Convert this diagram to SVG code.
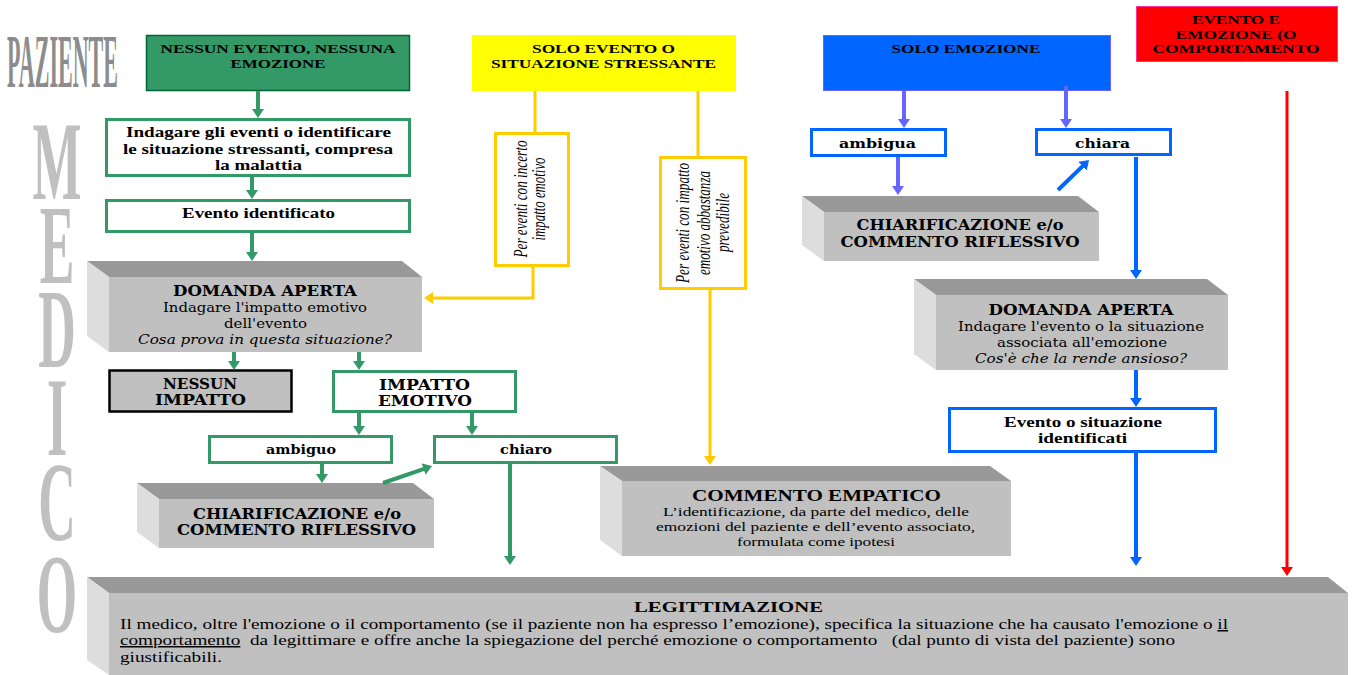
<svg xmlns="http://www.w3.org/2000/svg" width="1352" height="675" viewBox="0 0 1352 675">
<defs>
<style>
text{font-family:"Liberation Serif","Times New Roman",serif;fill:#000}
.c{text-anchor:middle}
.hb{font-weight:bold;font-size:13.5px}
.gb{font-weight:bold;font-size:14px}
.bk{font-family:"DejaVu Serif",serif;font-weight:bold;font-size:13px}
.bkl{font-family:"DejaVu Serif",serif;font-weight:bold;font-size:14.5px}
.bkr{font-family:"DejaVu Serif",serif;font-size:13.5px}
.bki{font-family:"DejaVu Serif",serif;font-style:italic;font-size:13.5px}
.it{font-style:italic;font-size:18px}
.ct{font-weight:bold;font-size:16px}
.tr{font-size:13.5px}
.lt{font-weight:bold;font-size:15.5px}
.lg{font-size:15px}
.u{text-decoration:underline}
.big{font-size:113px;font-weight:bold;fill:#c0c0c0;text-anchor:middle}
.top{fill:#999999}
.lf{fill:#dddddd}
.fr{fill:#c0c0c0}
.wg{fill:#fff;stroke:#339966;stroke-width:3}
.wb{fill:#fff;stroke:#0066ff;stroke-width:3}
.wy{fill:#fff;stroke:#ffcc00;stroke-width:3}
.cg{fill:none;stroke:#339966;stroke-width:4}
.cy{fill:none;stroke:#ffcc00;stroke-width:3}
.cl{fill:none;stroke:#6666ff;stroke-width:4}
.cb{fill:none;stroke:#0066ff;stroke-width:4}
.cr{fill:none;stroke:#ff0000;stroke-width:3}
</style>
<marker id="ag" markerUnits="userSpaceOnUse" markerWidth="10" markerHeight="12" refX="0.5" refY="6" orient="auto"><path d="M0,0 L9,6 L0,12 z" fill="#339966"/></marker>
<marker id="ay" markerUnits="userSpaceOnUse" markerWidth="10" markerHeight="12" refX="0.5" refY="6" orient="auto"><path d="M0,0 L9,6 L0,12 z" fill="#ffcc00"/></marker>
<marker id="al" markerUnits="userSpaceOnUse" markerWidth="10" markerHeight="12" refX="0.5" refY="6" orient="auto"><path d="M0,0 L9,6 L0,12 z" fill="#6666ff"/></marker>
<marker id="ab" markerUnits="userSpaceOnUse" markerWidth="10" markerHeight="12" refX="0.5" refY="6" orient="auto"><path d="M0,0 L9,6 L0,12 z" fill="#0066ff"/></marker>
<marker id="ar" markerUnits="userSpaceOnUse" markerWidth="10" markerHeight="12" refX="0.5" refY="6" orient="auto"><path d="M0,0 L9,6 L0,12 z" fill="#ff0000"/></marker>
<clipPath id="clipDA"><rect x="100" y="270" width="330" height="78"/></clipPath>
</defs>

<g id="labels">
<text transform="translate(7,87) scale(0.29,1)" font-size="76" font-weight="bold" style="fill:#8c8c8c">PAZIENTE</text>
<text class="big" transform="scale(0.46,1)"><tspan x="124" y="199">M</tspan><tspan x="124" y="283">E</tspan><tspan x="124" y="367">D</tspan><tspan x="124" y="455">I</tspan><tspan x="124" y="540">C</tspan><tspan x="124" y="632">O</tspan></text>
</g>

<g id="h-nessun">
<rect x="146.5" y="35.5" width="263" height="55" fill="#339966" stroke="#006633" stroke-width="1.5"/>
<text class="hb c" x="278" y="53" textLength="235" lengthAdjust="spacingAndGlyphs">NESSUN EVENTO, NESSUNA</text>
<text class="hb c" x="278" y="68" textLength="95" lengthAdjust="spacingAndGlyphs">EMOZIONE</text>
</g>

<g id="h-solo-evento">
<rect x="472" y="35" width="264" height="56" fill="#ffff00"/>
<text class="hb c" x="603.5" y="53" textLength="143" lengthAdjust="spacingAndGlyphs">SOLO EVENTO O</text>
<text class="hb c" x="603.5" y="68" textLength="225" lengthAdjust="spacingAndGlyphs">SITUAZIONE STRESSANTE</text>
</g>

<g id="h-solo-emozione">
<rect x="823.5" y="35.5" width="287" height="55" fill="#0066ff" stroke="#6666ff" stroke-width="1"/>
<text class="hb c" x="966" y="53" textLength="149" lengthAdjust="spacingAndGlyphs">SOLO EMOZIONE</text>
</g>

<g id="h-evento-emozione">
<rect x="1136.5" y="6.5" width="201" height="55" fill="#ff0000" stroke="#ff3399" stroke-width="1"/>
<text class="hb c" x="1236" y="24" textLength="88" lengthAdjust="spacingAndGlyphs">EVENTO E</text>
<text class="hb c" x="1236" y="38.5" textLength="121" lengthAdjust="spacingAndGlyphs">EMOZIONE (O</text>
<text class="hb c" x="1236" y="53" textLength="167" lengthAdjust="spacingAndGlyphs">COMPORTAMENTO</text>
</g>

<g id="n-indagare">
<rect class="wg" x="106.5" y="119.5" width="303" height="56"/>
<text class="gb c" x="258.5" y="137" textLength="265" lengthAdjust="spacingAndGlyphs">Indagare gli eventi o identificare</text>
<text class="gb c" x="258" y="153.5" textLength="270" lengthAdjust="spacingAndGlyphs">le situazione stressanti, compresa</text>
<text class="gb c" x="258.5" y="170" textLength="87" lengthAdjust="spacingAndGlyphs">la malattia</text>
</g>

<g id="n-evento-identificato">
<rect class="wg" x="106.5" y="200.5" width="303" height="31"/>
<text class="gb c" x="258.5" y="218" textLength="153" lengthAdjust="spacingAndGlyphs">Evento identificato</text>
</g>

<g id="n-domanda-sx">
<polygon class="top" points="87,261 402,261 422,277 109,277"/>
<polygon class="lf" points="87,261 109,277 109,352 87,336"/>
<rect class="fr" x="109" y="277" width="313" height="75"/>
<text class="bkl c" x="265" y="296" textLength="184" lengthAdjust="spacingAndGlyphs">DOMANDA APERTA</text>
<text class="bkr c" x="265" y="312" textLength="204" lengthAdjust="spacingAndGlyphs">Indagare l'impatto emotivo</text>
<text class="bkr c" x="265.5" y="328" textLength="83" lengthAdjust="spacingAndGlyphs">dell'evento</text>
<text class="bki c" x="265" y="344" textLength="254" lengthAdjust="spacingAndGlyphs" clip-path="url(#clipDA)">Cosa prova in questa situazione?</text>
</g>

<g id="n-nessun-impatto">
<rect x="109.5" y="370.5" width="182" height="41" fill="#c0c0c0" stroke="#000" stroke-width="2.5"/>
<text class="bkl c" x="200" y="389" textLength="74" lengthAdjust="spacingAndGlyphs">NESSUN</text>
<text class="bkl c" x="200.5" y="405" textLength="91" lengthAdjust="spacingAndGlyphs">IMPATTO</text>
</g>

<g id="n-impatto-emotivo">
<rect class="wg" x="333.5" y="371.5" width="182" height="40"/>
<text class="bkl c" x="424.5" y="390" textLength="91" lengthAdjust="spacingAndGlyphs">IMPATTO</text>
<text class="bkl c" x="425" y="406" textLength="94" lengthAdjust="spacingAndGlyphs">EMOTIVO</text>
</g>

<g id="n-ambiguo">
<rect class="wg" x="209.5" y="436.5" width="182" height="26"/>
<text class="bk c" x="301" y="454" textLength="70" lengthAdjust="spacingAndGlyphs">ambiguo</text>
</g>

<g id="n-chiaro">
<rect class="wg" x="434.5" y="436.5" width="182" height="26"/>
<text class="bk c" x="526" y="454" textLength="52" lengthAdjust="spacingAndGlyphs">chiaro</text>
</g>

<g id="n-chiarificazione-sx">
<polygon class="top" points="137,483 413,483 434,499 159,499"/>
<polygon class="lf" points="137,483 159,499 159,548 137,532"/>
<rect class="fr" x="159" y="499" width="275" height="49"/>
<text class="bkl c" x="297" y="519" textLength="208" lengthAdjust="spacingAndGlyphs">CHIARIFICAZIONE e/o</text>
<text class="bkl c" x="296.5" y="535" textLength="239" lengthAdjust="spacingAndGlyphs">COMMENTO RIFLESSIVO</text>
</g>

<g id="n-incerto">
<rect class="wy" x="495.5" y="133.5" width="73" height="132"/>
<text class="it c" transform="translate(527,199) rotate(-90)" textLength="117" lengthAdjust="spacingAndGlyphs">Per eventi con incerto</text>
<text class="it c" transform="translate(545,199) rotate(-90)" textLength="83" lengthAdjust="spacingAndGlyphs">impatto emotivo</text>
</g>

<g id="n-prevedibile">
<rect class="wy" x="660.5" y="157.5" width="85" height="131"/>
<text class="it c" transform="translate(689,223) rotate(-90)" textLength="120" lengthAdjust="spacingAndGlyphs">Per eventi con impatto</text>
<text class="it c" transform="translate(710,223) rotate(-90)" textLength="104" lengthAdjust="spacingAndGlyphs">emotivo abbastanza</text>
<text class="it c" transform="translate(729,222.5) rotate(-90)" textLength="59" lengthAdjust="spacingAndGlyphs">prevedibile</text>
</g>

<g id="n-commento-empatico">
<polygon class="top" points="600,466 990,466 1011,481 622,481"/>
<polygon class="lf" points="600,466 622,481 622,556 600,540"/>
<rect class="fr" x="622" y="481" width="389" height="75"/>
<text class="ct c" x="816.5" y="501" textLength="249" lengthAdjust="spacingAndGlyphs">COMMENTO EMPATICO</text>
<text class="tr c" x="816" y="516" textLength="306" lengthAdjust="spacingAndGlyphs">L’identificazione, da parte del medico, delle</text>
<text class="tr c" x="815.5" y="531" textLength="319" lengthAdjust="spacingAndGlyphs">emozioni del paziente e dell’evento associato,</text>
<text class="tr c" x="816" y="546" textLength="158" lengthAdjust="spacingAndGlyphs">formulata come ipotesi</text>
</g>

<g id="n-ambigua">
<rect class="wb" x="811.5" y="129.5" width="134" height="26"/>
<text class="bk c" x="877.5" y="148" textLength="77" lengthAdjust="spacingAndGlyphs">ambigua</text>
</g>

<g id="n-chiara">
<rect class="wb" x="1036.5" y="129.5" width="134" height="25"/>
<text class="bk c" x="1102.5" y="148" textLength="55" lengthAdjust="spacingAndGlyphs">chiara</text>
</g>

<g id="n-chiarificazione-dx">
<polygon class="top" points="802,196 1078,196 1099,212 824,212"/>
<polygon class="lf" points="802,196 824,212 824,261 802,245"/>
<rect class="fr" x="824" y="212" width="275" height="49"/>
<text class="bkl c" x="960" y="230" textLength="207" lengthAdjust="spacingAndGlyphs">CHIARIFICAZIONE e/o</text>
<text class="bkl c" x="960" y="247" textLength="239" lengthAdjust="spacingAndGlyphs">COMMENTO RIFLESSIVO</text>
</g>

<g id="n-domanda-dx">
<polygon class="top" points="914,279 1207,279 1228,295 936,295"/>
<polygon class="lf" points="914,279 936,295 936,370 914,354"/>
<rect class="fr" x="936" y="295" width="292" height="75"/>
<text class="bkl c" x="1081" y="315" textLength="185" lengthAdjust="spacingAndGlyphs">DOMANDA APERTA</text>
<text class="bkr c" x="1081" y="331" textLength="246" lengthAdjust="spacingAndGlyphs">Indagare l'evento o la situazione</text>
<text class="bkr c" x="1082" y="347" textLength="170" lengthAdjust="spacingAndGlyphs">associata all'emozione</text>
<text class="bki c" x="1081" y="363" textLength="212" lengthAdjust="spacingAndGlyphs">Cos'è che la rende ansioso?</text>
</g>

<g id="n-evento-situazione">
<rect class="wb" x="949.5" y="408.5" width="266" height="43"/>
<text class="gb c" x="1083" y="427" textLength="158" lengthAdjust="spacingAndGlyphs">Evento o situazione</text>
<text class="gb c" x="1082.5" y="443" textLength="89" lengthAdjust="spacingAndGlyphs">identificati</text>
</g>

<g id="n-legittimazione">
<polygon class="top" points="87,577 1328,577 1348,593 109,593"/>
<polygon class="lf" points="87,577 109,593 109,675 87,660"/>
<rect class="fr" x="109" y="593" width="1239" height="82"/>
<text class="lt c" x="728.5" y="612" textLength="189" lengthAdjust="spacingAndGlyphs">LEGITTIMAZIONE</text>
<text class="lg" x="120" y="629" textLength="1108" lengthAdjust="spacingAndGlyphs">Il medico, oltre l'emozione o il comportamento (se il paziente non ha espresso l’emozione), specifica la situazione che ha causato l'emozione o <tspan class="u">il</tspan></text>
<text class="lg" x="120" y="645" textLength="1055" lengthAdjust="spacingAndGlyphs" xml:space="preserve"><tspan class="u">comportamento</tspan>  da legittimare e offre anche la spiegazione del perché emozione o comportamento   (dal punto di vista del paziente) sono</text>
<text class="lg" x="120" y="662" textLength="102" lengthAdjust="spacingAndGlyphs">giustificabili.</text>
</g>

<g id="connectors">
<line class="cg" x1="258" y1="91" x2="258" y2="109.5" marker-end="url(#ag)"/>
<line class="cg" x1="252" y1="177" x2="252" y2="190.5" marker-end="url(#ag)"/>
<line class="cg" x1="252" y1="232" x2="252" y2="252.5" marker-end="url(#ag)"/>
<line class="cg" x1="234" y1="352" x2="234" y2="361.5" marker-end="url(#ag)"/>
<line class="cg" x1="359" y1="352" x2="359" y2="361.5" marker-end="url(#ag)"/>
<line class="cg" x1="359" y1="413" x2="359" y2="426.5" marker-end="url(#ag)"/>
<line class="cg" x1="472" y1="413" x2="472" y2="426.5" marker-end="url(#ag)"/>
<line class="cg" x1="322" y1="463" x2="322" y2="474.5" marker-end="url(#ag)"/>
<line class="cg" x1="383" y1="483" x2="424" y2="468.8" marker-end="url(#ag)"/>
<line class="cg" x1="510" y1="463" x2="510" y2="556.5" marker-end="url(#ag)"/>
<line class="cy" x1="535" y1="91" x2="535" y2="132"/>
<polyline class="cy" points="533,266 533,298 432.5,298" marker-end="url(#ay)"/>
<line class="cy" x1="698" y1="91" x2="698" y2="156"/>
<line class="cy" x1="710" y1="290" x2="710" y2="456.5" marker-end="url(#ay)"/>
<line class="cl" x1="904" y1="91" x2="904" y2="119.5" marker-end="url(#al)"/>
<line class="cl" x1="1066" y1="86" x2="1066" y2="119.5" marker-end="url(#al)"/>
<line class="cl" x1="898" y1="157" x2="898" y2="186.5" marker-end="url(#al)"/>
<line class="cb" x1="1058" y1="190" x2="1082.9" y2="165.9" marker-end="url(#ab)"/>
<line class="cb" x1="1136" y1="157" x2="1136" y2="270.5" marker-end="url(#ab)"/>
<line class="cb" x1="1136" y1="370" x2="1136" y2="398.5" marker-end="url(#ab)"/>
<line class="cb" x1="1136" y1="453" x2="1136" y2="557.5" marker-end="url(#ab)"/>
<line class="cr" x1="1287" y1="91" x2="1287" y2="567.5" marker-end="url(#ar)"/>
</g>
</svg>
